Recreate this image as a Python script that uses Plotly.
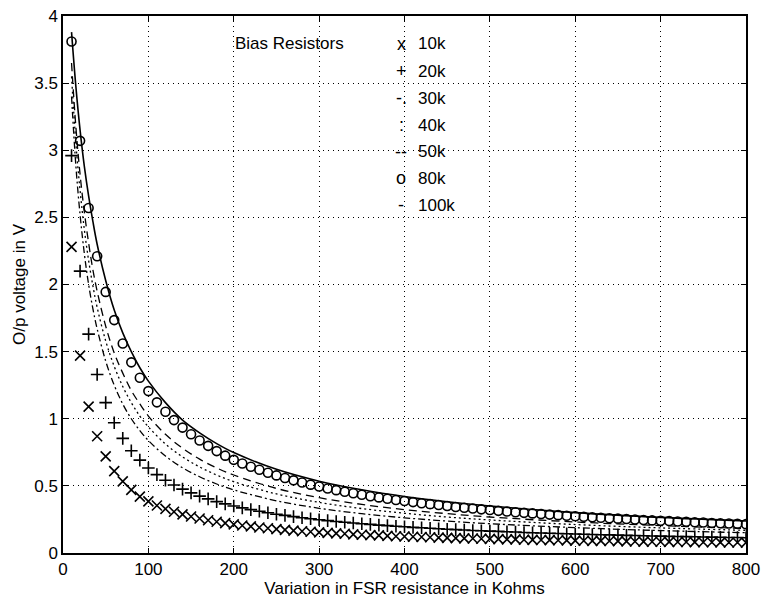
import plotly.graph_objects as go

# FSR resistance (kOhm) for marker series, every 10k
r_mark = list(range(10, 801, 10))

# 10k bias resistor ('x' markers)
v_10k = [2.28, 1.47, 1.09, 0.87, 0.72, 0.61, 0.534, 0.47, 0.42, 0.385,
         0.354, 0.329, 0.307, 0.288, 0.272, 0.257, 0.244, 0.233, 0.223, 0.213,
         0.205, 0.198, 0.190, 0.184, 0.178, 0.172, 0.167, 0.162, 0.158, 0.154,
         0.150, 0.146, 0.143, 0.139, 0.136, 0.133, 0.131, 0.128, 0.125, 0.123,
         0.121, 0.119, 0.117, 0.115, 0.113, 0.111, 0.109, 0.108, 0.106, 0.105,
         0.103, 0.102, 0.101, 0.099, 0.098, 0.097, 0.096, 0.095, 0.094, 0.092,
         0.091, 0.090, 0.090, 0.089, 0.088, 0.087, 0.086, 0.085, 0.084, 0.084,
         0.083, 0.082, 0.082, 0.081, 0.080, 0.080, 0.079, 0.078, 0.078, 0.077]

# 20k bias resistor ('+' markers)
v_20k = [2.96, 2.10, 1.63, 1.33, 1.12, 0.97, 0.854, 0.762, 0.692, 0.633,
         0.584, 0.542, 0.507, 0.476, 0.448, 0.424, 0.403, 0.383, 0.366, 0.350,
         0.336, 0.323, 0.311, 0.300, 0.289, 0.280, 0.271, 0.263, 0.255, 0.248,
         0.241, 0.235, 0.229, 0.223, 0.218, 0.213, 0.208, 0.204, 0.199, 0.195,
         0.191, 0.188, 0.184, 0.181, 0.177, 0.174, 0.171, 0.168, 0.166, 0.163,
         0.161, 0.158, 0.156, 0.153, 0.151, 0.149, 0.147, 0.145, 0.143, 0.141,
         0.140, 0.138, 0.136, 0.135, 0.133, 0.131, 0.130, 0.128, 0.127, 0.126,
         0.124, 0.123, 0.122, 0.121, 0.119, 0.118, 0.117, 0.116, 0.115, 0.114]

# 80k bias resistor ('o' markers)
v_80k = [3.81, 3.07, 2.57, 2.21, 1.945, 1.735, 1.56, 1.42, 1.305, 1.206,
         1.122, 1.052, 0.990, 0.934, 0.884, 0.838, 0.798, 0.759, 0.725, 0.694,
         0.667, 0.643, 0.620, 0.598, 0.578, 0.559, 0.541, 0.525, 0.509, 0.495,
         0.481, 0.468, 0.456, 0.445, 0.434, 0.423, 0.414, 0.404, 0.395, 0.387,
         0.379, 0.371, 0.364, 0.357, 0.350, 0.343, 0.337, 0.331, 0.325, 0.320,
         0.314, 0.309, 0.304, 0.299, 0.295, 0.290, 0.286, 0.282, 0.278, 0.274,
         0.270, 0.266, 0.263, 0.259, 0.256, 0.253, 0.249, 0.246, 0.243, 0.240,
         0.238, 0.235, 0.232, 0.229, 0.227, 0.224, 0.222, 0.220, 0.217, 0.215]

# FSR resistance (kOhm) for line series
r_line = [10, 15, 20, 25, 30, 35, 40, 50, 60, 70, 80, 90, 100, 120, 140, 160,
          180, 200, 250, 300, 350, 400, 450, 500, 600, 700, 800]

v_30k = [3.40, 2.89, 2.52, 2.23, 2.00, 1.82, 1.67, 1.43, 1.25, 1.11, 1.00, 0.912,
         0.838, 0.722, 0.635, 0.568, 0.514, 0.470, 0.389, 0.333, 0.293, 0.262,
         0.238, 0.218, 0.189, 0.167, 0.151]
v_40k = [3.55, 3.06, 2.70, 2.41, 2.18, 1.99, 1.83, 1.58, 1.39, 1.24, 1.12, 1.02,
         0.94, 0.812, 0.716, 0.641, 0.581, 0.531, 0.440, 0.377, 0.331, 0.296,
         0.268, 0.246, 0.212, 0.187, 0.169]
v_50k = [3.65, 3.18, 2.82, 2.54, 2.31, 2.11, 1.95, 1.69, 1.49, 1.34, 1.21, 1.11,
         1.02, 0.884, 0.781, 0.699, 0.634, 0.581, 0.481, 0.412, 0.362, 0.323,
         0.293, 0.268, 0.231, 0.204, 0.183]
v_100k = [3.88, 3.48, 3.15, 2.88, 2.66, 2.47, 2.30, 2.03, 1.81, 1.64, 1.50, 1.38,
          1.28, 1.12, 0.99, 0.895, 0.815, 0.748, 0.623, 0.535, 0.471, 0.421,
          0.382, 0.350, 0.301, 0.265, 0.238]

legend_title = "Bias Resistors"
legend_symbols = ["x", "+", "-.", ":", "--", "o", "-"]
legend_labels = ["10k", "20k", "30k", "40k", "50k", "80k", "100k"]
legend_y = [3.795, 3.589, 3.386, 3.187, 2.988, 2.79, 2.591]

FONT = "Liberation Sans, Arial, Helvetica, sans-serif"

fig = go.Figure()

fig.add_trace(go.Scatter(x=r_line, y=v_30k, mode="lines", line_shape="spline",
                         line=dict(color="black", width=1.3, dash="7px,3px,2px,3px")))
fig.add_trace(go.Scatter(x=r_line, y=v_40k, mode="lines", line_shape="spline",
                         line=dict(color="black", width=1.3, dash="2px,3px")))
fig.add_trace(go.Scatter(x=r_line, y=v_50k, mode="lines", line_shape="spline",
                         line=dict(color="black", width=1.3, dash="8px,5px")))
fig.add_trace(go.Scatter(x=r_line, y=v_100k, mode="lines", line_shape="spline",
                         line=dict(color="black", width=1.6)))
fig.add_trace(go.Scatter(x=r_mark, y=v_10k, mode="markers",
                         marker=dict(symbol="x-thin-open", size=10, color="black",
                                     line=dict(color="black", width=1.6))))
fig.add_trace(go.Scatter(x=r_mark, y=v_20k, mode="markers",
                         marker=dict(symbol="cross-thin-open", size=9, color="black",
                                     line=dict(color="black", width=1.6))))
fig.add_trace(go.Scatter(x=r_mark, y=v_80k, mode="markers",
                         marker=dict(symbol="circle-open", size=9, color="black",
                                     line=dict(color="black", width=1.6))))

annotations = [dict(x=199, y=3.795, xref="x", yref="y", text=legend_title,
                    showarrow=False, xanchor="left", yanchor="middle",
                    font=dict(family=FONT, size=17, color="black"))]
for s, lab, yy in zip(legend_symbols, legend_labels, legend_y):
    annotations.append(dict(x=396, y=yy, xref="x", yref="y", text=s, showarrow=False,
                            xanchor="center", yanchor="middle",
                            font=dict(family=FONT, size=18, color="black")))
    annotations.append(dict(x=414, y=yy, xref="x", yref="y", text=lab, showarrow=False,
                            xanchor="left", yanchor="middle",
                            font=dict(family=FONT, size=17, color="black")))

axis_common = dict(showline=True, linecolor="black", linewidth=1.5, mirror="ticks",
                   ticks="inside", ticklen=5, tickwidth=1, tickcolor="black",
                   showgrid=True, gridcolor="black", gridwidth=1, griddash="1px,4px",
                   zeroline=False, tickfont=dict(family=FONT, size=17, color="black"),
                   ticklabeloverflow="allow", automargin=False)

fig.update_layout(
    width=762, height=598,
    margin=dict(l=63, r=16, t=16, b=45),
    paper_bgcolor="white", plot_bgcolor="white",
    showlegend=False,
    annotations=annotations,
    xaxis=dict(range=[0, 800], tickmode="linear", tick0=0, dtick=100,
               title=dict(text="Variation in FSR resistance in Kohms", standoff=1,
                          font=dict(family=FONT, size=17, color="black")),
               **axis_common),
    yaxis=dict(range=[0, 4], tickmode="linear", tick0=0, dtick=0.5,
               title=dict(text="O/p voltage in V", standoff=4,
                          font=dict(family=FONT, size=17, color="black")),
               **axis_common),
)

fig.write_html("out.html",
               config={"displayModeBar": False},
               post_script="document.body.style.margin='0';"
                           "document.body.style.overflow='hidden';")
